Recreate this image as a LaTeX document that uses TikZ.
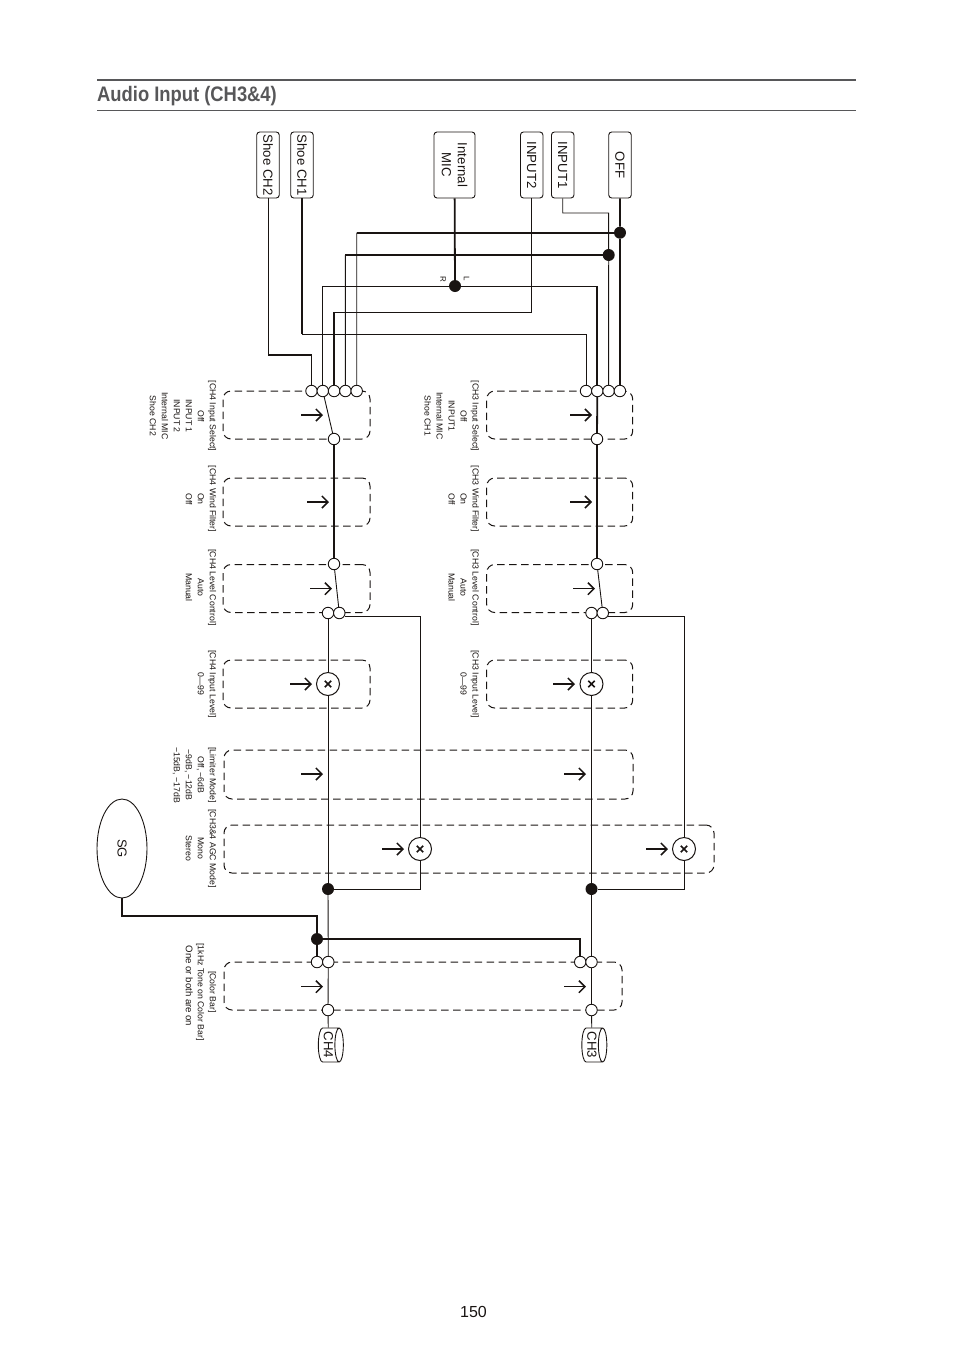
\documentclass[tikz,border=0pt]{standalone}
\usepackage{fontspec}
\setmainfont{Liberation Sans}
\newfontfamily\titlefont[FakeStretch=0.875]{Liberation Sans}
\usetikzlibrary{arrows.meta, positioning, shapes.geometric}
\definecolor{ink}{rgb}{0.1, 0.08, 0.07}
\definecolor{slate}{rgb}{0.34, 0.34, 0.35}

\begin{document}
\begin{tikzpicture} [%
    x = 1pt,
    y = -1pt,
    on grid,
    draw = ink,
    text = ink,
    wire/.style = {draw = ink, line width = 0.9pt},
    thickwire/.style = {draw = ink, line width = 1.8pt},
    ctrl/.style = {draw = ink, line width = 1.5pt,
      -{Straight Barb[length = 6pt, width = 12pt, line width = 1.5pt]}},
    term/.style = {circle, draw = ink, fill = white, line width = 0.9pt,
      minimum size = 11.5pt, inner sep = 0pt},
    dot/.style = {circle, fill = ink, minimum size = 12pt, inner sep = 0pt},
    mult/.style = {circle, draw = ink, fill = white, line width = 1pt,
      minimum size = 23pt, inner sep = 0pt,
      path picture = {
        \draw[line width = 1.6pt, ink]
        ([shift = {(-3.2pt,-3.2pt)}] path picture bounding box.center) --
        ([shift = {(3.2pt,3.2pt)}] path picture bounding box.center)
        ([shift = {(-3.2pt,3.2pt)}] path picture bounding box.center) --
        ([shift = {(3.2pt,-3.2pt)}] path picture bounding box.center);
      }},
    srcbox/.style = {rectangle, rounded corners = 3pt, draw = ink, line width = 0.9pt,
      rotate = -90, align = center, minimum width = 66pt, minimum height = 22.5pt,
      inner sep = 0pt, font = \fontsize{13.2}{16}\selectfont},
    dashbox/.style = {rectangle, rounded corners = 8pt, draw = ink, line width = 1pt,
      dash pattern = on 7.5pt off 4.5pt, inner sep = 0pt},
    lab/.style = {rotate = -90, anchor = north, align = center, inner sep = 0pt,
      font = \fontsize{8.7}{12}\selectfont},
    chan/.style = {cylinder, shape border rotate = 90, rotate = -90, aspect = 0.32,
      draw = ink, line width = 0.9pt, minimum height = 25pt, minimum width = 34pt,
      inner sep = 0pt, font = \fontsize{13.2}{16}\selectfont}
  ]

  \useasboundingbox (0,0) rectangle (954,1352);

  \coordinate (rula) at (97,80);
  \coordinate (rulb) at (856,80);
  \coordinate (rulc) at (97,110.5);
  \coordinate (ruld) at (856,110.5);
  \draw[slate, line width = 1.8pt] (rula) -- (rulb);
  \draw[slate, line width = 0.9pt] (rulc) -- (ruld);
  \node[anchor = base west, inner sep = 0pt, text = slate,
    font = \titlefont\bfseries\fontsize{21}{24}\selectfont] (title) at (97,101) {Audio Input (CH3\&4)};
  \node[font = \fontsize{16}{18}\selectfont] (page) at (473.5,1312) {150};

  \node[dashbox, minimum width = 147pt, minimum height = 48pt] (sel4) at (296.5,415) {};
  \node[dashbox, minimum width = 147pt, minimum height = 48pt] (win4) at (296.5,502) {};
  \node[dashbox, minimum width = 147pt, minimum height = 48pt] (lev4) at (296.5,588.5) {};
  \node[dashbox, minimum width = 147pt, minimum height = 48pt] (inl4) at (296.5,684) {};
  \node[dashbox, minimum width = 146pt, minimum height = 48pt] (sel3) at (559.7,415) {};
  \node[dashbox, minimum width = 146pt, minimum height = 48pt] (win3) at (559.7,502) {};
  \node[dashbox, minimum width = 146pt, minimum height = 48pt] (lev3) at (559.7,588.5) {};
  \node[dashbox, minimum width = 146pt, minimum height = 48pt] (inl3) at (559.7,684) {};
  \node[dashbox, minimum width = 409pt, minimum height = 49pt] (lim) at (428.5,774.5) {};
  \node[dashbox, minimum width = 490pt, minimum height = 48pt] (agc) at (469,849) {};
  \node[dashbox, minimum width = 398pt, minimum height = 48pt] (bar) at (423,986) {};

  \node[srcbox] (shoe2) at (268,165) {Shoe CH2};
  \node[srcbox] (shoe1) at (302,165) {Shoe CH1};
  \node[srcbox, minimum height = 41pt] (imic) at (454.5,165) {Internal\\MIC};
  \node[srcbox] (inp2) at (531.7,165) {INPUT2};
  \node[srcbox] (inp1) at (562.7,165) {INPUT1};
  \node[srcbox] (off) at (620,165) {OFF};

  \node[dot] (doff) at (620,232.7) {};
  \node[dot] (dinp) at (608.7,255) {};
  \node[dot] (dmic) at (455,286) {};
  \node[rotate = -90, inner sep = 0pt, font = \fontsize{8}{9}\selectfont] (micl) at (466.5,279) {L};
  \node[rotate = -90, inner sep = 0pt, font = \fontsize{8}{9}\selectfont] (micr) at (443,279) {R};

  \node[term] (ta4) at (311.5,391) {};
  \node[term] (tb4) [right=11.3pt of ta4] {};
  \node[term] (tc4) [right=11.3pt of tb4] {};
  \node[term] (td4) [right=11.3pt of tc4] {};
  \node[term] (te4) [right=11.3pt of td4] {};
  \node[term] (ta3) at (586,391) {};
  \node[term] (tb3) [right=11.3pt of ta3] {};
  \node[term] (tc3) [right=11.3pt of tb3] {};
  \node[term] (td3) [right=11.3pt of tc3] {};

  \node[term] (so4) at (334,439) {};
  \node[term] (su4) at (334,564) {};
  \node[term] (lm4) at (328,613) {};
  \node[term] (la4) [right=11.3pt of lm4] {};
  \node[mult] (in4) at (328,684) {};
  \node[mult] (ag4) at (420,849) {};
  \node[dot] (dg4) at (328,889) {};
  \node[term] (sg4) at (317,962) {};
  \node[term] (ch4i) [right=11.3pt of sg4] {};
  \node[term] (ch4o) at (328,1010) {};
  \node[chan] (ch4) at (328.5,1045) {CH4};

  \node[term] (so3) at (597,439) {};
  \node[term] (su3) at (597,564) {};
  \node[term] (lm3) at (591.5,613) {};
  \node[term] (la3) [right=11.3pt of lm3] {};
  \node[mult] (in3) at (591.5,684) {};
  \node[mult] (ag3) at (684,849) {};
  \node[dot] (dg3) at (591.5,889) {};
  \node[term] (sg3) at (580.2,962) {};
  \node[term] (ch3i) [right=11.3pt of sg3] {};
  \node[term] (ch3o) at (591.5,1010) {};
  \node[chan] (ch3) at (592,1045) {CH3};

  \node[ellipse, draw = ink, line width = 0.9pt, minimum width = 50pt, minimum height = 99pt,
    inner sep = 0pt] (sgen) at (122,848.5) {};
  \node[rotate = -90, inner sep = 0pt, font = \fontsize{13}{15}\selectfont] (sgtext) at (sgen) {SG};
  \node[dot] (dsg) at (317,939) {};

  \coordinate (ka) at (311.5,355);
  \coordinate (kz) at (268,355);
  \coordinate (kc) at (334.1,312);
  \coordinate (kd) at (345.4,255);
  \coordinate (ke) at (356.7,232.7);
  \coordinate (kf) at (586,334);
  \coordinate (ky) at (302,334);
  \coordinate (kg) at (608.6,213);
  \coordinate (kh) at (597.3,286);
  \coordinate (kx) at (317,915.7);

  \draw[wire] (shoe2) -- (kz);
  \draw[thickwire] (kz) -- (ka);
  \draw[wire] (ka) -- (ta4);
  \draw[thickwire] (shoe1) -- (ky);
  \draw[wire] (ky) -- (kf) -- (ta3);
  \draw[thickwire] (imic) -- (dmic);
  \draw[wire] (dmic) -| (tb4);
  \draw[wire] (dmic) -- (kh);
  \draw[thickwire] (kh) -- (tb3);
  \draw[wire] (inp2) |- (kc);
  \draw[thickwire] (kc) -- (tc4);
  \draw[wire] (inp1) |- (kg) -- (dinp);
  \draw[wire] (dinp) -- (tc3);
  \draw[thickwire] (dinp) -- (kd);
  \draw[wire] (kd) -- (td4);
  \draw[thickwire] (off) -- (doff) -- (td3);
  \draw[thickwire] (doff) -- (ke);
  \draw[wire] (ke) -- (te4);

  \path[wire]
  (tb4) edge (so4)
  (su4) edge (la4)
  (lm4) edge (in4)
  (in4) edge (dg4)
  (dg4) edge (ch4i)
  (ch4i) edge (ch4o)
  (ch4o) edge (ch4)
  (su3) edge (la3)
  (lm3) edge (in3)
  (in3) edge (dg3)
  (dg3) edge (ch3i)
  (ch3i) edge (ch3o)
  (ch3o) edge (ch3);
  \path[thickwire]
  (so4) edge (su4)
  (tb3) edge (so3)
  (so3) edge (su3);

  \draw[wire] (la4.-30) -| (ag4);
  \draw[wire] (ag4) |- (dg4);
  \draw[wire] (la3.-30) -| (ag3);
  \draw[wire] (ag3) |- (dg3);
  \draw[thickwire] (sgen) |- (kx) -- (dsg) -- (sg4);
  \draw[thickwire] (dsg) -| (sg3);

  \coordinate (ah1) at (323,415);
  \coordinate[left=22pt of ah1] (at1);
  \coordinate (ah2) at (329,502);
  \coordinate[left=22pt of ah2] (at2);
  \coordinate (ah3) at (332,588.7);
  \coordinate[left=22pt of ah3] (at3);
  \coordinate (ah4) at (312,684);
  \coordinate[left=22pt of ah4] (at4);
  \coordinate (ah5) at (323,774);
  \coordinate[left=22pt of ah5] (at5);
  \coordinate (ah6) at (404,849);
  \coordinate[left=22pt of ah6] (at6);
  \coordinate (ah7) at (323,986.7);
  \coordinate[left=22pt of ah7] (at7);
  \coordinate (bh1) at (592,415);
  \coordinate[left=22pt of bh1] (bt1);
  \coordinate (bh2) at (592,502);
  \coordinate[left=22pt of bh2] (bt2);
  \coordinate (bh3) at (595,588.7);
  \coordinate[left=22pt of bh3] (bt3);
  \coordinate (bh4) at (575,684);
  \coordinate[left=22pt of bh4] (bt4);
  \coordinate (bh5) at (586,774);
  \coordinate[left=22pt of bh5] (bt5);
  \coordinate (bh6) at (668,849);
  \coordinate[left=22pt of bh6] (bt6);
  \coordinate (bh7) at (586,986.7);
  \coordinate[left=22pt of bh7] (bt7);

  \path
  (at1) edge[ctrl] (ah1)
  (at2) edge[ctrl] (ah2)
  (at3) edge[ctrl] (ah3)
  (at4) edge[ctrl] (ah4)
  (at5) edge[ctrl] (ah5)
  (at6) edge[ctrl] (ah6)
  (at7) edge[ctrl] (ah7)
  (bt1) edge[ctrl] (bh1)
  (bt2) edge[ctrl] (bh2)
  (bt3) edge[ctrl] (bh3)
  (bt4) edge[ctrl] (bh4)
  (bt5) edge[ctrl] (bh5)
  (bt6) edge[ctrl] (bh6)
  (bt7) edge[ctrl] (bh7);

  \node[lab] (lsel4) at (216.5,416) {[CH4 Input Select]\\Off\\INPUT 1\\INPUT 2\\Internal MIC\\Shoe CH2};
  \node[lab] (lwin4) at (216.5,499) {[CH4 Wind Filter]\\On\\Off};
  \node[lab] (llev4) at (216.5,587.5) {[CH4 Level Control]\\Auto\\Manual};
  \node[lab] (linl4) at (216.5,684) {[CH4 Input Level]\\0—99};
  \node[lab] (lsel3) at (479,416) {[CH3 Input Select]\\Off\\INPUT1\\Internal MIC\\Shoe CH1};
  \node[lab] (lwin3) at (479,499) {[CH3 Wind Filter]\\On\\Off};
  \node[lab] (llev3) at (479,587.5) {[CH3 Level Control]\\Auto\\Manual};
  \node[lab] (linl3) at (479,684) {[CH3 Input Level]\\0—99};
  \node[lab] (llim) at (216.5,775) {[Limiter Mode]\\Off, −6dB\\−9dB, −12dB\\−15dB, −17dB};
  \node[lab] (lagc) at (216.5,848.5) {[CH3\&4 AGC Mode]\\Mono\\Stereo};
  \node[lab] (lbar) at (216.5,992) {[Color Bar]\\{[1kHz Tone on Color Bar]}};
  \node[lab, font = \fontsize{9.6}{12}\selectfont] (lone) at (193,986) {One or both are on};

\end{tikzpicture}
\end{document}
